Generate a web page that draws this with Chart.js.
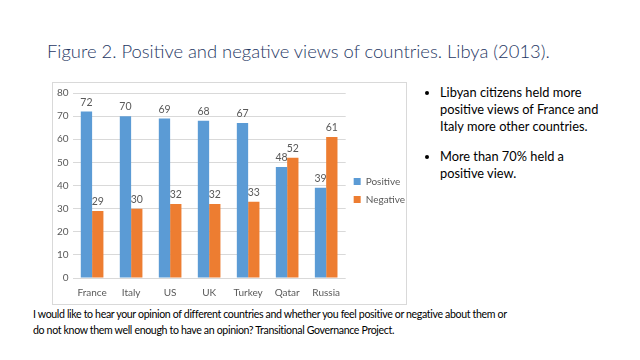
<!DOCTYPE html>
<html>
<head>
<meta charset="utf-8">
<script src="https://cdn.jsdelivr.net/npm/chart.js@4/dist/chart.umd.min.js"></script>
<style>
	body { margin: 0; width: 640px; height: 360px; background: #fff; position: relative; overflow: hidden; font-family: Lato, "Open Sans", sans-serif; }
	#title { position: absolute; left: 47px; top: 40px; font-size: 18.4px; color: #1f3864; font-weight: 300; white-space: nowrap; }
	#box { position: absolute; left: 52px; top: 82px; width: 355px; height: 223px; border: 1px solid #d9d9d9; box-sizing: border-box; }
	#inner { position: relative; width: 353px; height: 221px; }
	#notes { position: absolute; left: 424px; top: 84px; width: 200px; font-size: 12.8px; line-height: 17px; color: #000; }
	#notes ul { margin: 0; padding-left: 16px; }
	#notes li { margin-bottom: 13px; }
	#footer { position: absolute; left: 33px; top: 306px; font-size: 10.6px; letter-spacing: -0.35px; line-height: 16px; color: #000; white-space: nowrap; }
</style>
</head>
<body>
<div id="title">Figure 2. Positive and negative views of countries. Libya (2013).</div>
<div id="box"><div id="inner"><canvas id="viewsChart"></canvas></div></div>
<div id="notes">
	<ul>
		<li>Libyan citizens held more<br>positive views of France and<br>Italy more other countries.</li>
		<li>More than 70% held a<br>positive view.</li>
	</ul>
</div>
<div id="footer">I would like to hear your opinion of different countries and whether you feel positive or negative about them or<br>do not know them well enough to have an opinion? Transitional Governance Project.</div>
<script>
"use strict"

// DATA -----------------------
const countries = ["France", "Italy", "US", "UK", "Turkey", "Qatar", "Russia"]
const positive = [72, 70, 69, 68, 67, 48, 39]
const negative = [29, 30, 32, 32, 33, 52, 61]
const yTicks = [0, 10, 20, 30, 40, 50, 60, 70, 80]

const FONT = "Lato, 'Open Sans', sans-serif"

// draw the value above each bar
const valueLabels = {
	id: "valueLabels",
	afterDatasetsDraw(chart) {
		const ctx = chart.ctx
		ctx.save()
		ctx.font = "10.5px " + FONT
		ctx.fillStyle = "#595959"
		ctx.textAlign = "center"
		ctx.textBaseline = "bottom"
		chart.data.datasets.forEach(function (ds, i) {
			chart.getDatasetMeta(i).data.forEach(function (bar, j) {
				ctx.fillText(ds.data[j], bar.x, bar.y - 4)
			})
		})
		ctx.restore()
	},
}

new Chart(document.getElementById("viewsChart").getContext("2d"), {
	type: "bar",
	data: {
		labels: countries,
		datasets: [
			{ label: "Positive", data: positive, backgroundColor: "#5b9bd5" },
			{ label: "Negative", data: negative, backgroundColor: "#ed7d31" },
		],
	},
	options: {
		responsive: true,
		maintainAspectRatio: false,
		animation: false,
		devicePixelRatio: 1,
		categoryPercentage: 0.58,
		barPercentage: 1,
		layout: { padding: { left: 0, top: -2, right: -9, bottom: 4 } },
		plugins: {
			legend: {
				position: "right",
				labels: {
					boxWidth: 7,
					boxHeight: 7,
					padding: 8,
					color: "#595959",
					font: { size: 10, family: FONT },
				},
			},
			tooltip: { enabled: false },
		},
		scales: {
			x: {
				grid: { display: false },
				border: { display: false },
				ticks: { color: "#595959", maxRotation: 0, autoSkip: false, padding: 1, font: { size: 10, family: FONT } },
			},
			y: {
				min: 0,
				max: 80,
				afterBuildTicks(axis) {
					axis.ticks = yTicks.map(function (v) { return { value: v } })
				},
				grid: { color: "#d9d9d9", drawTicks: false },
				border: { display: false },
				ticks: { color: "#595959", padding: 4, font: { size: 10, family: FONT } },
			},
		},
	},
	plugins: [valueLabels],
})
</script>
</body>
</html>
